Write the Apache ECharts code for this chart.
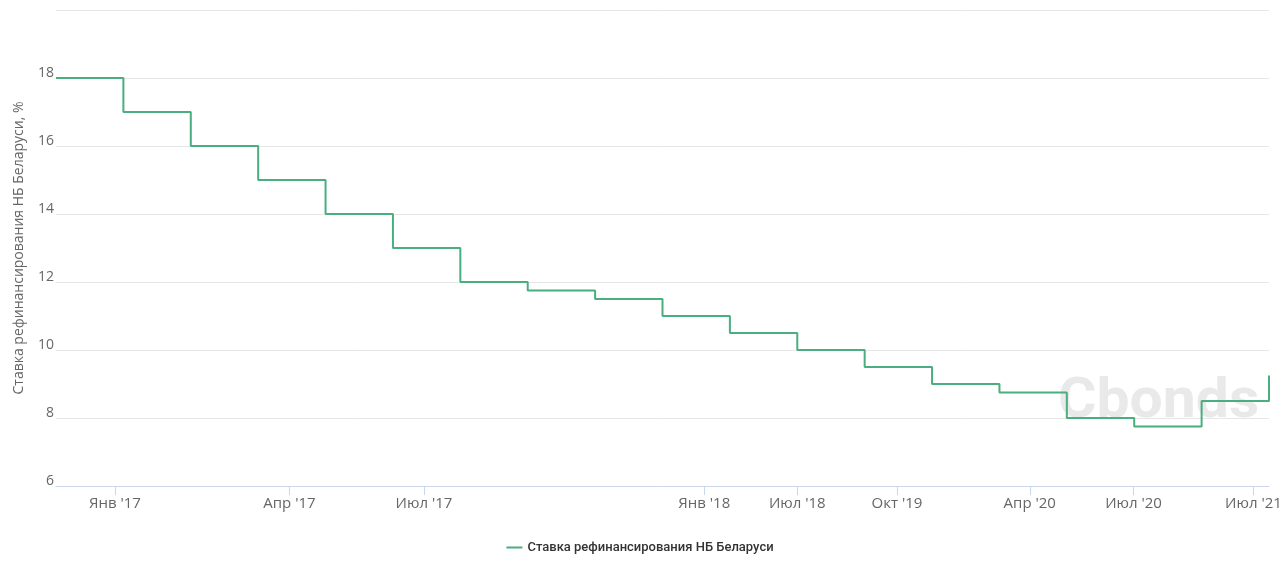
<!DOCTYPE html>
<html>
<head>
<meta charset="utf-8">
<script src="https://cdn.jsdelivr.net/npm/echarts@6/dist/echarts.min.js"></script>
<style>html,body{margin:0;padding:0;background:#fff}#c{width:1280px;height:578px}</style>
</head>
<body>
<div id="c"></div>
<script>
// Rate level after each change (equal-spaced points, ordinal axis)
const rates = [18, 17, 16, 15, 14, 13, 12, 11.75, 11.5, 11, 10.5, 10, 9.5, 9, 8.75, 8, 7.75, 8.5, 9.25];
// X tick positions (in point-index units) and their labels
const tickPos = [0.875, 3.464, 5.46, 9.62, 11.0, 12.48, 14.45, 15.99, 17.77];
const tickLabels = ["Янв '17", "Апр '17", "Июл '17", "Янв '18", "Июл '18", "Окт '19", "Апр '20", "Июл '20", "Июл '21"];
const seriesName = 'Ставка рефинансирования НБ Беларуси';
const yTitle = 'Ставка рефинансирования НБ Беларуси, %';

const data = rates.map((v, i) => [i, v]);
const chart = echarts.init(document.getElementById('c'));
chart.setOption({
  animation: false,
  grid: { left: 56, right: 11, top: 10, bottom: 92, containLabel: false, outerBoundsMode: 'none' },
  xAxis: {
    type: 'value', min: 0, max: rates.length - 1,
    axisLine: { show: true, lineStyle: { color: '#ccd6eb', width: 1 } },
    axisTick: { show: true, customValues: tickPos, length: 9, lineStyle: { color: '#ccd6eb' } },
    axisLabel: {
      customValues: tickPos, margin: 10, color: '#666', fontSize: 15, fontFamily: 'Open Sans',
      formatter: function (v) {
        let best = 0, d = 1e9;
        tickPos.forEach((p, i) => { if (Math.abs(p - v) < d) { d = Math.abs(p - v); best = i; } });
        return tickLabels[best];
      }
    },
    splitLine: { show: false }
  },
  yAxis: {
    type: 'value', min: 6, max: 20, interval: 2,
    name: yTitle, nameLocation: 'middle', nameGap: 30, nameRotate: 90,
    nameTextStyle: { color: '#666', fontSize: 14, fontFamily: 'Open Sans' },
    axisLine: { show: false }, axisTick: { show: false },
    axisLabel: {
      color: '#666', fontSize: 14, fontFamily: 'Open Sans', margin: 2, verticalAlign: 'bottom',
      padding: [0, 0, -2, 0],
      formatter: v => (v === 20 ? '' : String(v))
    },
    splitLine: { lineStyle: { color: '#e6e6e6', width: 1 } }
  },
  legend: {
    bottom: 19, left: 'center', icon: 'rect', itemWidth: 16, itemHeight: 2, itemGap: 5,
    textStyle: { color: '#333', fontSize: 13, fontWeight: 500, fontFamily: 'Roboto' },
    data: [seriesName]
  },
  graphic: [{
    type: 'text', x: 1058, y: 376, scaleX: 1.07, z: 0, silent: true,
    style: { text: 'Cbonds', font: 'bold 55px Roboto', fill: '#e9e9e9' }
  }],
  series: [{
    name: seriesName, type: 'line', step: 'end', data: data,
    showSymbol: false, symbol: 'none', z: 5,
    lineStyle: { color: '#4aae7e', width: 2 }, itemStyle: { color: '#4aae7e' }
  }]
});
</script>
</body>
</html>
